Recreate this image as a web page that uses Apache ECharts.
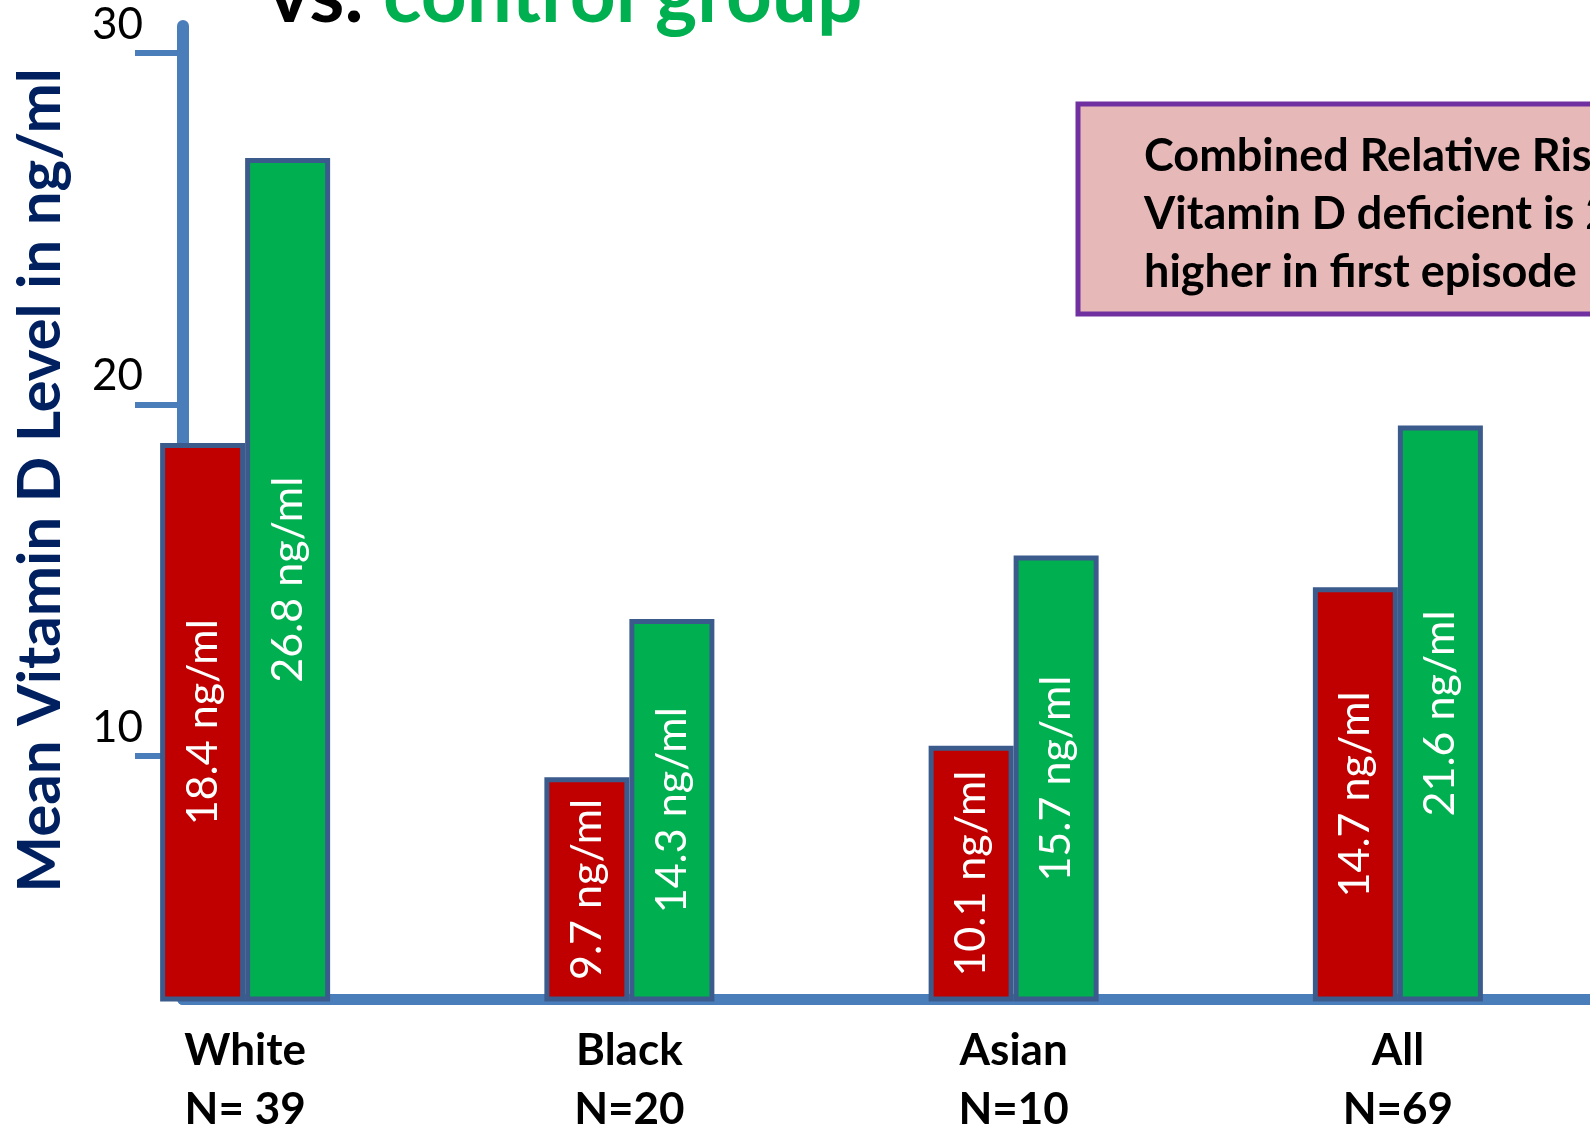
<!DOCTYPE html>
<html>
<head>
<meta charset="utf-8">
<script src="https://cdn.jsdelivr.net/npm/echarts@6/dist/echarts.min.js"></script>
<style>
  html, body { margin: 0; padding: 0; background: #fff; }
  #chart { width: 1590px; height: 1129px; }
</style>
</head>
<body>
<div id="chart"></div>
<script>
const categories = ["White", "Black", "Asian", "All"];
const groupSizes = ["N= 39", "N=20", "N=10", "N=69"];
// bar heights as drawn against the axis
const firstEpisode = [18.9, 9.4, 10.3, 14.8];
const controls = [27.0, 13.9, 15.7, 19.4];
// values printed inside the bars
const firstEpisodeLabels = [18.4, 9.7, 10.1, 14.7];
const controlLabels = [26.8, 14.3, 15.7, 21.6];
const yTicks = [10, 20, 30];

const axisBlue = "#4a7ebb";
const barBorder = "#3b5b8c";
const font = "Lato";

const chart = echarts.init(document.getElementById("chart"));

const yRange = { min: 3.1, max: 30.75 };

const barLabel = (labels) => ({
  show: true,
  position: "inside",
  rotate: 90,
  color: "#fff",
  fontFamily: font,
  fontSize: 43,
  formatter: (p) => labels[p.dataIndex] + " ng/ml",
});

const options = {
  animation: false,
  grid: [
    // bars
    { left: 53, right: 0, top: 26, bottom: 130, outerBoundsMode: "none" },
    // visible axes
    { left: 183, right: 0, top: 26, bottom: 130, outerBoundsMode: "none" },
  ],
  xAxis: [
    {
      type: "category",
      gridIndex: 0,
      data: categories,
      axisLine: { show: false },
      axisTick: { show: false },
      axisLabel: {
        margin: 22,
        color: "#000",
        fontFamily: font,
        fontWeight: "bold",
        fontSize: 44,
        lineHeight: 59,
        formatter: (v, i) => v + "\n" + groupSizes[i],
      },
    },
    {
      type: "category",
      gridIndex: 1,
      data: categories,
      axisLine: { show: true, lineStyle: { color: axisBlue, width: 11 } },
      axisTick: { show: false },
      axisLabel: { show: false },
    },
  ],
  yAxis: [
    { type: "value", gridIndex: 0, show: false, ...yRange },
    {
      type: "value",
      gridIndex: 1,
      ...yRange,
      name: "Mean Vitamin D Level in ng/ml",
      nameLocation: "middle",
      nameGap: 112,
      nameTextStyle: {
        color: "#002060",
        fontFamily: font,
        fontWeight: "bold",
        fontSize: 60,
        padding: [0, 0, 0, 64],
      },
      axisLine: { show: true, lineStyle: { color: axisBlue, width: 12 } },
      axisTick: {
        show: true,
        customValues: yTicks,
        length: 48,
        lineStyle: { color: axisBlue, width: 6 },
      },
      axisLabel: {
        customValues: yTicks,
        margin: 40,
        color: "#000",
        fontFamily: font,
        fontSize: 44,
        lineHeight: 44,
        verticalAlign: "bottom",
        padding: [0, 0, 6, 0],
      },
      splitLine: { show: false },
    },
  ],
  series: [
    {
      name: "First episode psychosis",
      type: "bar",
      xAxisIndex: 0,
      yAxisIndex: 0,
      data: firstEpisode,
      barWidth: 85,
      barGap: 0,
      itemStyle: { color: "#c00000", borderColor: barBorder, borderWidth: 5 },
      label: barLabel(firstEpisodeLabels),
    },
    {
      name: "Control group",
      type: "bar",
      xAxisIndex: 0,
      yAxisIndex: 0,
      data: controls,
      barWidth: 85,
      barGap: 0,
      itemStyle: { color: "#00b050", borderColor: barBorder, borderWidth: 5 },
      label: barLabel(controlLabels),
    },
  ],
  graphic: [
    {
      type: "text",
      left: 268,
      top: -44,
      style: {
        text: "{a|vs. }{b|control group}",
        rich: {
          a: { fill: "#000", fontFamily: font, fontWeight: "bold", fontSize: 80, lineHeight: 80 },
          b: { fill: "#00b050", fontFamily: font, fontWeight: "bold", fontSize: 80, lineHeight: 80 },
        },
      },
    },
    {
      type: "rect",
      shape: { x: 1078, y: 104, width: 620, height: 210 },
      style: { fill: "#e6b9b8", stroke: "#7030a0", lineWidth: 5 },
      z: 10,
    },
    {
      type: "text",
      x: 1144,
      y: 127,
      z: 11,
      style: {
        text: "Combined Relative Risk of being\nVitamin D deficient is 2.4 times\nhigher in first episode psychosis",
        fill: "#000",
        fontFamily: font,
        fontWeight: "bold",
        fontSize: 45,
        lineHeight: 58,
        align: "left",
        verticalAlign: "top",
      },
    },
  ],
};

chart.setOption(options);
</script>
</body>
</html>
